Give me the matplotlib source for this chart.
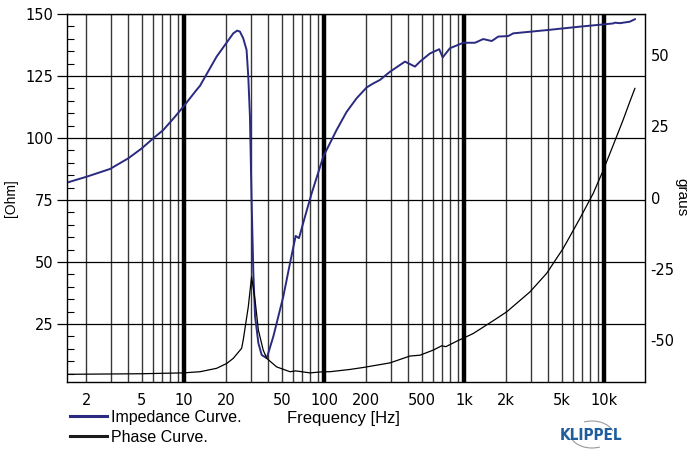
import matplotlib
matplotlib.use("Agg")
import matplotlib.pyplot as plt
from matplotlib.lines import Line2D
from matplotlib.patches import Arc
from matplotlib.ticker import MultipleLocator, FixedLocator

plt.rcParams["axes.unicode_minus"] = False

# ---------------- data ----------------
imp_freq = [1.46, 2.02, 2.96, 4.0, 4.99, 6.04, 7.11, 8.63, 9.89, 12.3, 13.0, 17.1,
            22.5, 24.0, 25.1, 26.5, 28.0, 28.8, 29.6, 30.4, 31.3, 32.2, 34.0, 35.9,
            39.0, 43.5, 51.2, 57.2, 62.8, 66.3, 73.2, 81.7, 98.9, 123, 145, 171, 202,
            225, 251, 296, 379, 447, 485, 572, 666, 705, 794, 989, 1199, 1374, 1578,
            1760, 2072, 2250, 3900, 6740, 9890, 11650, 11970, 13000, 15300, 16640]
imp_ohm = [82.0, 84.4, 87.5, 91.8, 95.8, 99.9, 103.2, 108.6, 112.6, 119.4, 121.0, 132.8,
           142.2, 143.3, 142.9, 140.2, 135.5, 124.7, 108.6, 75.0, 45.5, 28.0, 17.3, 12.5,
           11.2, 20.0, 36.0, 49.5, 60.5, 59.6, 68.3, 77.7, 92.5, 103.2, 110.5, 116.0, 120.4,
           122.0, 123.4, 126.7, 130.8, 128.8, 130.8, 134.1, 135.8, 132.5, 136.2, 138.4, 138.4, 139.9, 139.1,
           140.9, 141.1, 142.2, 143.5, 144.9, 145.8, 146.2, 146.5, 146.3, 146.9, 147.9]

ph_freq = [1.46, 5.0, 9.89, 13.0, 17.1, 20.2, 22.5, 25.8, 26.5, 28.8, 30.4, 32.2,
           34.0, 36.8, 39.0, 45.9, 57.2, 62.8, 79.4, 98.9, 110, 153, 191, 296, 411,
           485, 604, 693, 743, 887, 1164, 1619, 2018, 2960, 3896, 5120, 6740, 8390,
           9890, 11650, 13700, 15300, 16640]
ph_deg = [-62.0, -61.8, -61.5, -61.1, -59.9, -58.2, -56.4, -52.9, -50.0, -38.3, -27.8, -36.0,
          -46.5, -53.5, -56.4, -59.4, -61.1, -60.8, -61.5, -61.1, -61.1, -60.3, -59.6, -58.0, -55.6,
          -55.3, -53.5, -52.0, -52.3, -50.4, -47.7, -43.2, -40.1, -33.1, -26.6, -17.8, -7.3, 1.5,
          9.6, 18.4, 27.2, 33.6, 38.3]

x_ticks = [2, 5, 10, 20, 50, 100, 200, 500, 1000, 2000, 5000, 10000]
x_tick_labels = ["2", "5", "10", "20", "50", "100", "200", "500", "1k", "2k", "5k", "10k"]
left_ticks = [25, 50, 75, 100, 125, 150]
right_ticks = [-50, -25, 0, 25, 50]

NAVY = "#2a2a80"
W, H = 691, 450

fig = plt.figure(figsize=(W / 100, H / 100), dpi=100)
ax = fig.add_axes([67 / W, 1 - 382 / H, (645 - 67) / W, (382 - 14) / H])
ax.set_xscale("log")
ax.set_xlim(1.46, 19650)
ax.set_ylim(1.6, 150)

# vertical grid lines
for d in range(0, 5):
    for m in range(1, 10):
        f = m * 10 ** d
        if 1.46 < f < 19650:
            if m == 1:
                ax.axvline(f, color="black", lw=3.2, zorder=1)
            else:
                ax.axvline(f, color="0.22", lw=1.0, zorder=1)

ax.yaxis.set_major_locator(FixedLocator(left_ticks))
ax.yaxis.set_minor_locator(MultipleLocator(5))
ax.yaxis.grid(True, which="major", color="black", lw=0.9, zorder=1)
ax.tick_params(axis="y", which="major", direction="out", length=7, width=0.9,
               pad=3, labelsize=10.5, labelfontfamily="DejaVu Sans")
ax.tick_params(axis="y", which="minor", direction="in", length=5, width=0.8)

ax.xaxis.set_major_locator(FixedLocator(x_ticks))
ax.xaxis.set_minor_locator(FixedLocator([]))
ax.set_xticklabels(x_tick_labels)
ax.tick_params(axis="x", which="both", length=0, pad=8, labelsize=10.5,
               labelfontfamily="DejaVu Sans")

ax.plot(imp_freq, imp_ohm, color=NAVY, lw=1.4, zorder=3)

for s in ax.spines.values():
    s.set_color("black")
    s.set_linewidth(1.0)
    s.set_zorder(4)

ax2 = ax.twinx()
ax2.set_ylim(-64.7, 64.4)
ax2.yaxis.set_major_locator(FixedLocator(right_ticks))
ax2.tick_params(axis="y", length=0, pad=4, labelsize=10.5, labelfontfamily="DejaVu Sans")
ax2.plot(ph_freq, ph_deg, color="black", lw=0.9, zorder=3)
for s in ax2.spines.values():
    s.set_visible(False)

# axis labels
fig.text(11 / W, 1 - 198 / H, "[Ohm]", rotation=90, ha="center", va="center",
         fontsize=10, family="Liberation Sans")
fig.text(681 / W, 1 - 197 / H, "graus", rotation=270, ha="center", va="center",
         fontsize=11, family="Liberation Sans")
fig.text(343 / W, 1 - 418 / H, "Frequency [Hz]", ha="center", va="center",
         fontsize=12, family="Liberation Sans")

handles = [Line2D([], [], color=NAVY, lw=2.2), Line2D([], [], color="#1a1a1a", lw=2.2)]
fig.legend(handles, ["Impedance Curve.", "Phase Curve."], loc="upper left",
           bbox_to_anchor=(70 / W, 1 - 410 / H), frameon=False,
           prop={"family": "Liberation Sans", "size": 11.5},
           handlelength=2.3, handletextpad=0.25, labelspacing=0.3,
           borderpad=0, borderaxespad=0)

# KLIPPEL logo
fig.text(591 / W, 1 - 435 / H, "KLIPPEL", ha="center", va="center", fontsize=11,
         fontweight="bold", color="#1f5e9e", family="DejaVu Sans", fontstretch="condensed")
fig.add_artist(Arc((592 / W, 1 - 436 / H), 44 / W, 30 / H, theta1=20, theta2=110,
                   transform=fig.transFigure, color="0.6", lw=0.8))
fig.add_artist(Arc((592 / W, 1 - 433 / H), 44 / W, 30 / H, theta1=200, theta2=290,
                   transform=fig.transFigure, color="0.6", lw=0.8))

fig.savefig("out.png", dpi=100)
